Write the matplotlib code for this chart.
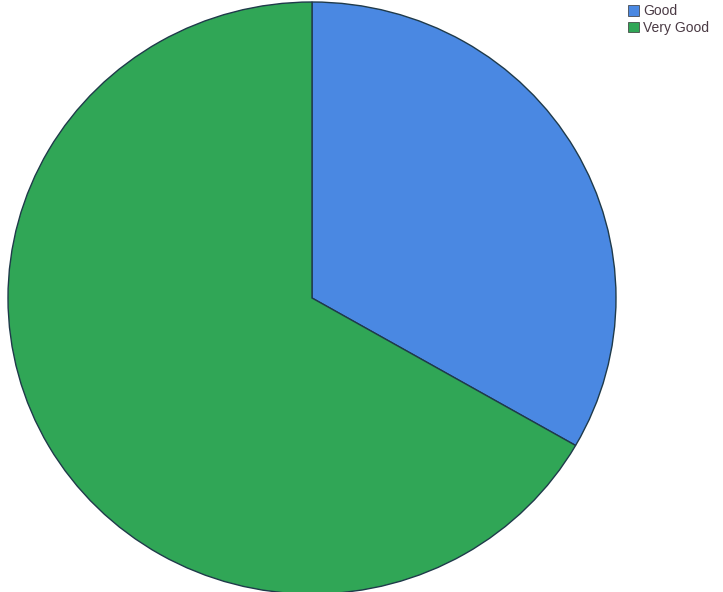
import matplotlib.pyplot as plt
from matplotlib.patches import Patch

labels = ['Good', 'Very Good']
values = [33.3, 66.7]
colors = ['#4a88e2', '#30a656']

fig = plt.figure(figsize=(7.23, 5.92), dpi=100)
cx, cy, rx, ry = 312, 298, 304, 296
ax = fig.add_axes([(cx - rx) / 723, 1 - (cy + ry) / 592, 2 * rx / 723, 2 * ry / 592])
ax.pie(values, colors=colors, startangle=90, counterclock=False, radius=1,
       wedgeprops=dict(edgecolor='#1f3a4a', linewidth=1.0))
ax.set_xlim(-1, 1)
ax.set_ylim(-1, 1)
ax.set_aspect('auto')
ax.axis('off')

handles = [Patch(facecolor=c, edgecolor='#333333', linewidth=0.5) for c in colors]
fig.legend(handles, labels, loc='upper left', bbox_to_anchor=(624 / 723, 1.0),
           frameon=False, prop={'family': 'Liberation Sans', 'size': 10},
           handlelength=0.8, handleheight=0.8,
           handletextpad=0.3, labelspacing=0.2, borderaxespad=0.1, borderpad=0.2,
           labelcolor='#4a3a44')

fig.savefig('out.png', dpi=100)
